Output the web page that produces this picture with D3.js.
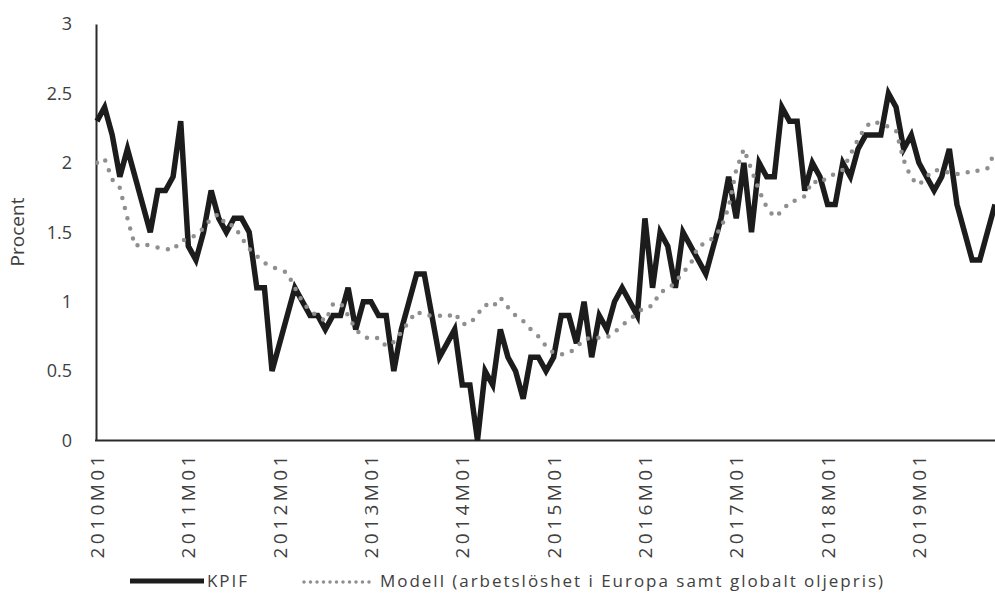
<!DOCTYPE html>
<html>
<head>
<meta charset="utf-8">
<script src="https://cdn.jsdelivr.net/npm/d3@7"></script>
<style>
  body { margin: 0; background: #fff; }
  text { font-family: "Open Sans", "Liberation Sans", sans-serif; fill: #404040; }
</style>
</head>
<body>
<svg id="chart" width="995" height="600"></svg>
<script>
// monthly categories 2010M01 .. 2019M11
const years = [2010, 2011, 2012, 2013, 2014, 2015, 2016, 2017, 2018, 2019];
const months = [];
years.forEach(y => {
  for (let m = 1; m <= 12; m++) months.push(y + "M" + String(m).padStart(2, "0"));
});
months.length = 119;

const xTicks = years.map(y => y + "M01");
const yTicks = [0, 0.5, 1, 1.5, 2, 2.5, 3];

const kpif = [
  2.3, 2.4, 2.2, 1.9, 2.1, 1.9, 1.7, 1.5, 1.8, 1.8, 1.9, 2.3,
  1.4, 1.3, 1.5, 1.8, 1.6, 1.5, 1.6, 1.6, 1.5, 1.1, 1.1, 0.5,
  0.7, 0.9, 1.1, 1.0, 0.9, 0.9, 0.8, 0.9, 0.9, 1.1, 0.8, 1.0,
  1.0, 0.9, 0.9, 0.5, 0.8, 1.0, 1.2, 1.2, 0.9, 0.6, 0.7, 0.8,
  0.4, 0.4, 0.0, 0.5, 0.4, 0.8, 0.6, 0.5, 0.3, 0.6, 0.6, 0.5,
  0.6, 0.9, 0.9, 0.7, 1.0, 0.6, 0.9, 0.8, 1.0, 1.1, 1.0, 0.9,
  1.6, 1.1, 1.5, 1.4, 1.1, 1.5, 1.4, 1.3, 1.2, 1.4, 1.6, 1.9,
  1.6, 2.0, 1.5, 2.0, 1.9, 1.9, 2.4, 2.3, 2.3, 1.8, 2.0, 1.9,
  1.7, 1.7, 2.0, 1.9, 2.1, 2.2, 2.2, 2.2, 2.5, 2.4, 2.1, 2.2,
  2.0, 1.9, 1.8, 1.9, 2.1, 1.7, 1.5, 1.3, 1.3, 1.5, 1.7
];

const modell = [
  2.0, 2.03, 1.88, 1.82, 1.6, 1.4, 1.42, 1.4, 1.39, 1.38, 1.37, 1.44,
  1.45, 1.48, 1.53, 1.6, 1.63, 1.55, 1.55, 1.46, 1.38, 1.33, 1.28, 1.25,
  1.23, 1.21, 1.1, 1.0, 0.93, 0.9, 0.86, 0.98, 0.99, 0.9, 0.8, 0.75,
  0.73, 0.74, 0.68, 0.71, 0.78, 0.86, 0.93, 0.9, 0.9, 0.9, 0.89, 0.92,
  0.84, 0.84, 0.91, 0.98, 0.96, 1.03, 0.96, 0.9, 0.86, 0.8, 0.75, 0.68,
  0.63, 0.62, 0.63, 0.67, 0.73, 0.74, 0.74, 0.74, 0.78, 0.83, 0.87, 0.92,
  0.96, 0.97, 1.07, 1.09, 1.14, 1.21, 1.27, 1.4, 1.42, 1.46, 1.53, 1.68,
  1.95, 2.1, 1.95, 1.8, 1.68, 1.61, 1.65, 1.72, 1.73, 1.76, 1.87, 1.85,
  1.9, 1.92, 1.95, 2.06, 2.17, 2.26, 2.3, 2.28, 2.26, 2.23, 2.02, 1.89,
  1.84, 1.9, 1.95, 1.94, 1.93, 1.92, 1.92, 1.95, 1.94, 1.96, 2.08
];

const seriesNames = ["KPIF", "Modell (arbetslöshet i Europa samt globalt oljepris)"];

const svg = d3.select("#chart");

const x = d3.scalePoint().domain(months).range([97, 995]);
const y = d3.scaleLinear().domain([0, 3]).range([440.5, 24]);

// y axis
const yAxis = svg.append("g")
  .attr("transform", "translate(96,0)")
  .call(d3.axisLeft(y).tickValues(yTicks).tickSize(0).tickSizeOuter(0).tickPadding(24).tickFormat(d => String(d)));
yAxis.select(".domain").attr("stroke", "#2b2b2b").attr("stroke-width", 2);
yAxis.selectAll("text").attr("font-size", 18).attr("fill", "#404040").style("font-family", "Open Sans");

// x axis
const xAxis = svg.append("g")
  .attr("transform", "translate(0,440.5)")
  .call(d3.axisBottom(x).tickValues(xTicks).tickSize(0).tickSizeOuter(0));
xAxis.select(".domain").remove();
svg.append("line")
  .attr("x1", 95).attr("x2", 995)
  .attr("y1", y(0)).attr("y2", y(0))
  .attr("stroke", "#2b2b2b").attr("stroke-width", 2);
xAxis.selectAll("text")
  .attr("font-size", 19)
  .attr("fill", "#404040")
  .style("font-family", "Open Sans")
  .attr("text-anchor", "end")
  .attr("dy", "0.35em")
  .attr("y", 0)
  .attr("transform", "translate(0,15) rotate(-90)")
  .attr("textLength", 103)
  .attr("lengthAdjust", "spacing");

// y title
svg.append("text")
  .attr("transform", "translate(24,232) rotate(-90)")
  .attr("text-anchor", "middle")
  .attr("font-size", 19)
  .text("Procent");

const line = d3.line()
  .x((d, i) => x(months[i]))
  .y(d => y(d));

svg.append("path")
  .datum(kpif)
  .attr("fill", "none")
  .attr("stroke", "#1c1c1c")
  .attr("stroke-width", 5.5)
  .attr("d", line);

svg.append("path")
  .datum(modell)
  .attr("fill", "none")
  .attr("stroke", "#8f8f8f")
  .attr("stroke-width", 4.5)
  .attr("stroke-linecap", "round")
  .attr("stroke-dasharray", "0,10.5")
  .attr("d", line);

// legend
const lg = svg.append("g");
lg.append("line")
  .attr("x1", 130).attr("x2", 204).attr("y1", 581).attr("y2", 581)
  .attr("stroke", "#1c1c1c").attr("stroke-width", 5);
lg.append("text")
  .attr("x", 207).attr("y", 587)
  .attr("font-size", 17)
  .attr("textLength", 40).attr("lengthAdjust", "spacing")
  .text(seriesNames[0]);
lg.append("line")
  .attr("x1", 304).attr("x2", 372).attr("y1", 582).attr("y2", 582)
  .attr("stroke", "#8f8f8f").attr("stroke-width", 3.5)
  .attr("stroke-linecap", "round").attr("stroke-dasharray", "0,6.5");
lg.append("text")
  .attr("x", 380).attr("y", 587)
  .attr("font-size", 17)
  .attr("textLength", 503).attr("lengthAdjust", "spacing")
  .text(seriesNames[1]);
</script>
</body>
</html>
